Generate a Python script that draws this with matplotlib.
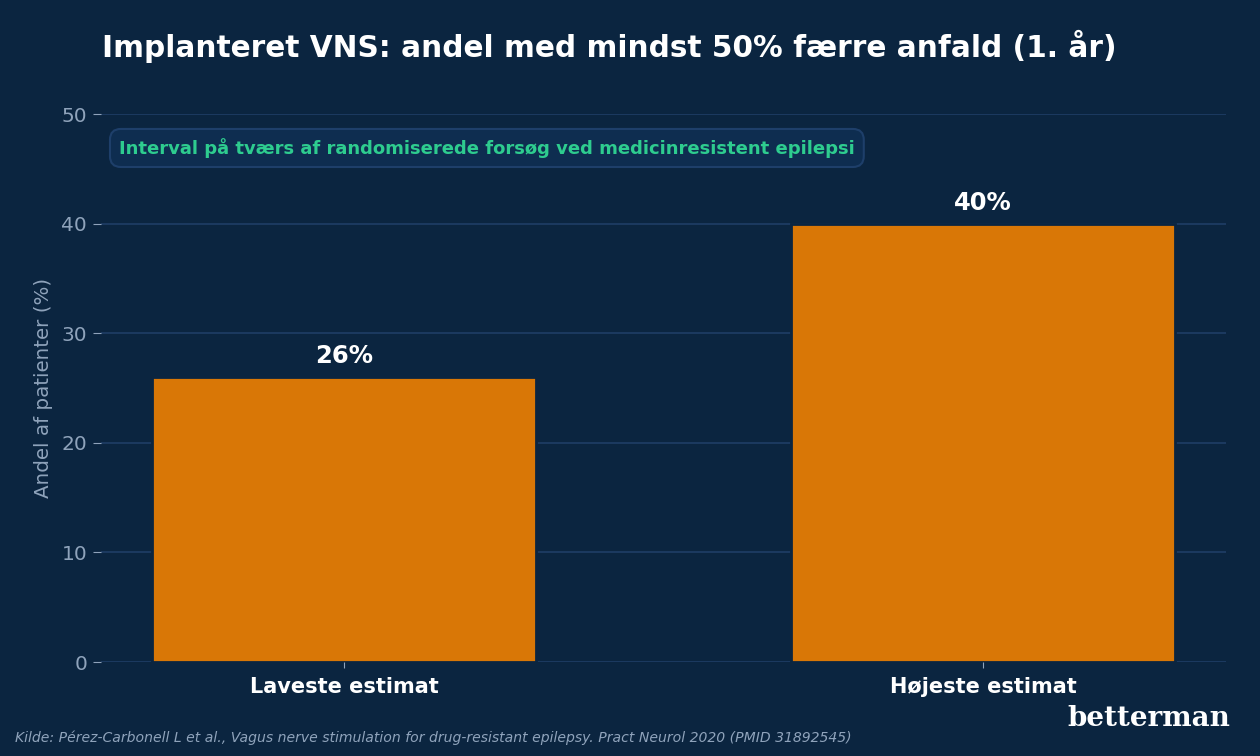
import matplotlib.pyplot as plt

categories = ["Laveste estimat", "Højeste estimat"]
values = [26, 40]
labels = ["26%", "40%"]
yticks = [0, 10, 20, 30, 40, 50]

bg = "#0b2540"
bar_color = "#d97706"
grid_color = "#1f3e66"
tick_color = "#8fa3bb"

fig = plt.figure(figsize=(12.6, 7.56), dpi=100, facecolor=bg)
ax = fig.add_axes([101 / 1260, 94 / 756, 1125 / 1260, 548 / 756], facecolor=bg)

ax.bar(range(len(categories)), values, width=0.6, color=bar_color,
       edgecolor=bg, linewidth=2, zorder=3)
for i, (v, lab) in enumerate(zip(values, labels)):
    ax.text(i, v + 0.8, lab, ha="center", va="bottom", color="white",
            fontsize=17.5, fontweight="bold", zorder=4)

ax.set_ylim(0, 50)
ax.set_xlim(-0.38, 1.38)
ax.set_yticks(yticks)
ax.set_xticks(range(len(categories)))
ax.set_xticklabels(categories, color="white", fontsize=15, fontweight="bold")
ax.tick_params(axis="y", colors=tick_color, labelsize=14.5, length=6, pad=4)
ax.tick_params(axis="x", colors=tick_color, length=4, pad=7)
for lbl in ax.get_xticklabels():
    lbl.set_color("white")
ax.yaxis.grid(True, color=grid_color, linewidth=1.2, zorder=0)
ax.set_axisbelow(True)
for s in ax.spines.values():
    s.set_visible(False)
ax.set_ylabel("Andel af patienter (%)", color=tick_color, fontsize=14.3, labelpad=6)

ax.text(0.016, 0.938, "Interval på tværs af randomiserede forsøg ved medicinresistent epilepsi",
        transform=ax.transAxes, ha="left", va="center", color="#2ecc8f",
        fontsize=13, fontweight="bold",
        bbox=dict(boxstyle="round,pad=0.5,rounding_size=0.6", facecolor="#0e2d50",
                  edgecolor="#1e3f6a", linewidth=1.5))

fig.text(102 / 1260, 1 - 46 / 756, "Implanteret VNS: andel med mindst 50% færre anfald (1. år)",
         color="white", fontsize=21.3, fontweight="bold", ha="left", va="center")
fig.text(15 / 1260, 1 - 738 / 756,
         "Kilde: Pérez-Carbonell L et al., Vagus nerve stimulation for drug-resistant epilepsy. Pract Neurol 2020 (PMID 31892545)",
         color=tick_color, fontsize=10.1, style="italic", ha="left", va="center")
fig.text(1230 / 1260, 1 - 718 / 756, "betterman", color="white", fontsize=20,
         fontweight="bold", family="DejaVu Serif", ha="right", va="center")

fig.savefig("out.png", dpi=100, facecolor=bg)
